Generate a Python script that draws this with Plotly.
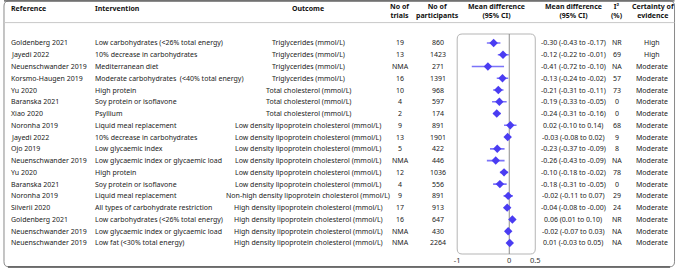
import plotly.graph_objects as go

# ---------------- data ----------------
references = ["Goldenberg 2021", "Jayedi 2022", "Neuenschwander 2019", "Korsmo-Haugen 2019",
              "Yu 2020", "Baranska 2021", "Xiao 2020", "Noronha 2019", "Jayedi 2022", "Ojo 2019",
              "Neuenschwander 2019", "Yu 2020", "Baranska 2021", "Noronha 2019", "Silverii 2020",
              "Goldenberg 2021", "Neuenschwander 2019", "Neuenschwander 2019"]
interventions = ["Low carbohydrates (<26% total energy)", "10% decrease in carbohydrates",
                 "Mediterranean diet", "Moderate carbohydrates  (<40% total energy)", "High protein",
                 "Soy protein or isoflavone", "Psyllium", "Liquid meal replacement",
                 "10% decrease in carbohydrates", "Low glycaemic index",
                 "Low glycaemic index or glycaemic load", "High protein", "Soy protein or isoflavone",
                 "Liquid meal replacement", "All types of carbohydrate restriction",
                 "Low carbohydrates (<26% total energy)", "Low glycaemic index or glycaemic load",
                 "Low fat (<30% total energy)"]
TG = "Triglycerides (mmol/L)"
TC = "Total cholesterol (mmol/L)"
LDL = "Low density lipoprotein cholesterol (mmol/L)"
NHDL = "Non-high density lipoprotein cholesterol (mmol/L)"
HDL = "High density lipoprotein cholesterol (mmol/L)"
outcomes = [TG, TG, TG, TG, TC, TC, TC, LDL, LDL, LDL, LDL, LDL, LDL, NHDL, HDL, HDL, HDL, HDL]
n_trials = ["19", "13", "NMA", "16", "10", "4", "2", "9", "13", "5", "NMA", "12", "4", "9", "17", "16", "NMA", "NMA"]
n_participants = ["860", "1423", "271", "1391", "968", "597", "174", "891", "1901", "422", "446",
                  "1036", "556", "891", "913", "647", "430", "2264"]
mean_diff = [-0.30, -0.12, -0.41, -0.13, -0.21, -0.19, -0.24, 0.02, -0.03, -0.23, -0.26, -0.10,
             -0.18, -0.02, -0.04, 0.06, -0.02, 0.01]
ci_low = [-0.43, -0.22, -0.72, -0.24, -0.31, -0.33, -0.31, -0.10, -0.08, -0.37, -0.43, -0.18,
          -0.31, -0.11, -0.08, 0.01, -0.07, -0.03]
ci_high = [-0.17, -0.01, -0.10, -0.02, -0.11, -0.05, -0.16, 0.14, 0.02, -0.09, -0.09, -0.02,
           -0.05, 0.07, -0.00, 0.10, 0.03, 0.05]
ci_text = ["-0.30 (-0.43 to -0.17)", "-0.12 (-0.22 to -0.01)", "-0.41 (-0.72 to -0.10)",
           "-0.13 (-0.24 to -0.02)", "-0.21 (-0.31 to -0.11)", "-0.19 (-0.33 to -0.05)",
           "-0.24 (-0.31 to -0.16)", "0.02 (-0.10 to 0.14)", "-0.03 (-0.08 to 0.02)",
           "-0.23 (-0.37 to -0.09)", "-0.26 (-0.43 to -0.09)", "-0.10 (-0.18 to -0.02)",
           "-0.18 (-0.31 to -0.05)", "-0.02 (-0.11 to 0.07)", "-0.04 (-0.08 to -0.00)",
           "0.06 (0.01 to 0.10)", "-0.02 (-0.07 to 0.03)", "0.01 (-0.03 to 0.05)"]
i2 = ["NR", "69", "NA", "57", "73", "0", "0", "68", "9", "8", "NA", "78", "0", "29", "24", "NR", "NA", "NA"]
certainty = ["High", "High"] + ["Moderate"] * 16
x_ticks = [-1, 0, 0.5]
x_tick_labels = ["-1", "0", "0.5"]

# ---------------- layout helpers ----------------
W, H = 681, 269
ROW0, STEP = 43.0, 11.76
FONT = "Noto Sans"
FS = 7
TXT = "#222222"
BOX_L, BOX_R, BOX_T, BOX_B = 459.6, 538.6, 34.0, 254.0


def px(x):
    return x / W


def py(y):
    return 1 - y / H


rows = list(range(len(references)))
err_plus = [h - m for m, h in zip(mean_diff, ci_high)]
err_minus = [m - l for m, l in zip(mean_diff, ci_low)]

fig = go.Figure()
fig.add_trace(go.Scatter(
    x=mean_diff, y=rows, mode="markers",
    marker=dict(symbol="diamond", size=6.5, color="#4a3cf2"),
    error_x=dict(type="data", symmetric=False, array=err_plus, arrayminus=err_minus,
                 color="rgba(100,90,248,0.85)", thickness=1.6, width=0),
    hoverinfo="skip", showlegend=False,
))

# y axis domain = plot box; range chosen so that row i sits at pixel ROW0 + i*STEP
y_top_val = (BOX_T - ROW0) / STEP
y_bot_val = (BOX_B - ROW0) / STEP

fig.update_layout(
    width=W, height=H, margin=dict(l=0, r=0, t=0, b=0),
    paper_bgcolor="white", plot_bgcolor="rgba(0,0,0,0)",
    font=dict(family=FONT, size=FS, color=TXT),
    xaxis=dict(domain=[px(BOX_L), px(BOX_R)], range=[-1, 0.5], tickvals=x_ticks,
               ticktext=x_tick_labels, showgrid=False, zeroline=False, showline=False,
               ticks="", tickfont=dict(size=7.5, color="#333"), fixedrange=True),
    yaxis=dict(domain=[py(BOX_B), py(BOX_T)], range=[y_bot_val, y_top_val], visible=False,
               fixedrange=True),
)

shapes = []


def rounded_rect(x0, y0, x1, y1, r, color, width):
    rx, ry = r / W, r / H
    X0, X1, Y0, Y1 = px(x0), px(x1), py(y1), py(y0)
    path = (f"M {X0+rx},{Y1} L {X1-rx},{Y1} Q {X1},{Y1} {X1},{Y1-ry} "
            f"L {X1},{Y0+ry} Q {X1},{Y0} {X1-rx},{Y0} L {X0+rx},{Y0} "
            f"Q {X0},{Y0} {X0},{Y0+ry} L {X0},{Y1-ry} Q {X0},{Y1} {X0+rx},{Y1} Z")
    return dict(type="path", xref="paper", yref="paper", path=path,
                line=dict(color=color, width=width), layer="below")


shapes.append(rounded_rect(BOX_L, BOX_T, BOX_R, BOX_B, 5, "#b5b5b5", 1))
shapes.append(dict(type="line", xref="x", yref="paper", x0=0, x1=0, y0=py(BOX_B), y1=py(BOX_T),
                   line=dict(color="#8c8c8c", width=1), layer="below"))
shapes.append(rounded_rect(1.0, 1.0, 679.5, 266.8, 5, "#8a8a8a", 1))
shapes.append(dict(type="line", xref="paper", yref="paper", x0=px(1), x1=px(679.5),
                   y0=py(0.8), y1=py(0.8), line=dict(color="#555555", width=1.2)))
shapes.append(dict(type="line", xref="paper", yref="paper", x0=px(5), x1=px(675),
                   y0=py(267), y1=py(267), line=dict(color="#555555", width=1.5)))
shapes.append(dict(type="line", xref="paper", yref="paper", x0=px(1), x1=px(679.5),
                   y0=py(22.6), y1=py(22.6), line=dict(color="#c8c8c8", width=1)))
fig.update_layout(shapes=shapes)

ann = []


def head(text, x, y, anchor="center"):
    ann.append(dict(text=text, x=px(x), y=py(y), xref="paper", yref="paper", xanchor=anchor,
                    yanchor="middle", showarrow=False, align="center",
                    font=dict(family=FONT, size=FS, color="#111")))


head("<b>Reference</b>", 6, 8.5, "left")
head("<b>Intervention</b>", 91, 8.5, "left")
head("<b>Outcome</b>", 309, 8.5)
head("<b>No of<br>trials</b>", 402, 11.3)
head("<b>No of<br>participants</b>", 440, 11.3)
head("<b>Mean difference<br>(95% CI)</b>", 499, 11.3)
head("<b>Mean difference<br>(95% CI)</b>", 577, 11.3)
head("<b>I²<br>(%)</b>", 621, 11.3)
head("<b>Certainty of<br>evidence</b>", 658, 11.3)


def cell(text, x, row, anchor="center"):
    ann.append(dict(text=text, x=px(x), y=row, xref="paper", yref="y", xanchor=anchor,
                    yanchor="middle", showarrow=False, font=dict(family=FONT, size=FS, color=TXT)))


for i in rows:
    cell(references[i], 6, i, "left")
    cell(interventions[i], 91, i, "left")
    cell(outcomes[i], 309, i)
    cell(n_trials[i], 402, i)
    cell(n_participants[i], 440, i)
    cell(ci_text[i], 577, i)
    cell(i2[i], 621, i)
    cell(certainty[i], 657, i)

fig.update_layout(annotations=ann)
fig.write_html("out.html", config={"displayModeBar": False},
               post_script="document.body.style.margin='0';")
